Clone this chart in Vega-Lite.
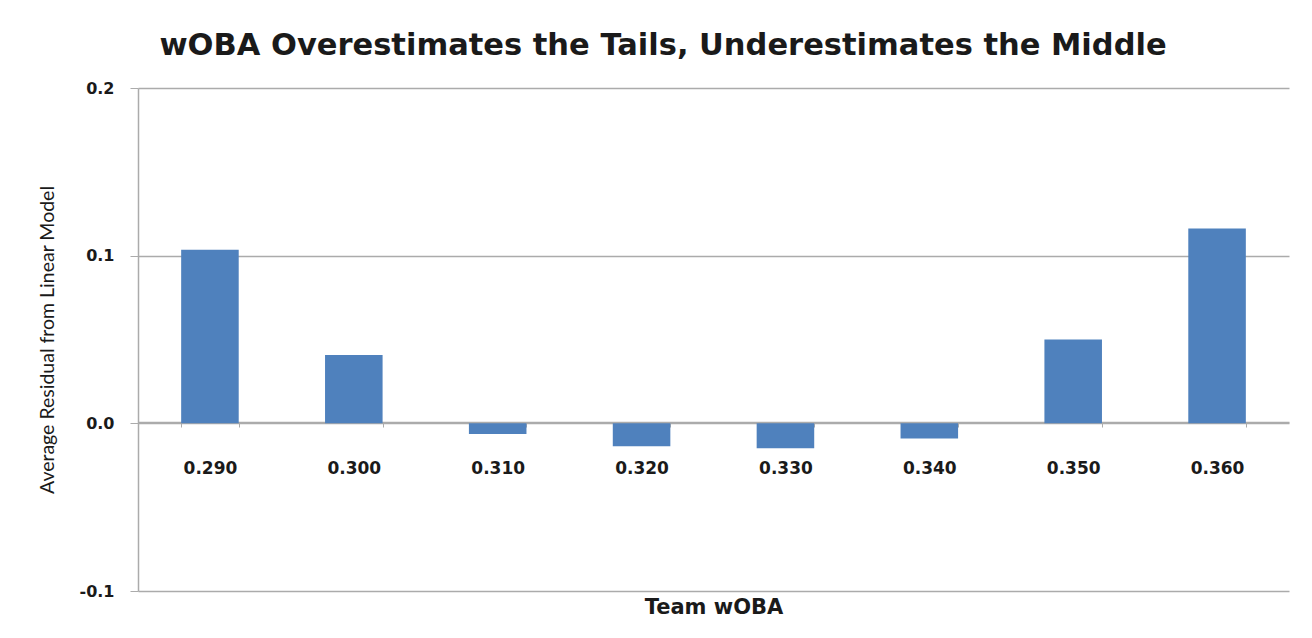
{
  "$schema": "https://vega.github.io/schema/vega-lite/v6.json",
  "autosize": {"type": "none"},
  "width": 1151,
  "height": 503,
  "padding": {"left": 138, "top": 88, "right": 23, "bottom": 47},
  "background": "white",
  "title": {
    "text": "wOBA Overestimates the Tails, Underestimates the Middle",
    "font": "DejaVu Sans",
    "fontSize": 30.5,
    "fontWeight": "bold",
    "color": "#1a1a1a",
    "anchor": "middle",
    "frame": "bounds",
    "offset": 19
  },
  "data": {
    "values": [
      {"woba": "0.290", "residual": 0.1035},
      {"woba": "0.300", "residual": 0.0408},
      {"woba": "0.310", "residual": -0.0063},
      {"woba": "0.320", "residual": -0.0136},
      {"woba": "0.330", "residual": -0.0148},
      {"woba": "0.340", "residual": -0.0090},
      {"woba": "0.350", "residual": 0.0500},
      {"woba": "0.360", "residual": 0.1162}
    ]
  },
  "mark": {"type": "bar", "color": "#4F81BD"},
  "encoding": {
    "x": {
      "field": "woba",
      "type": "nominal",
      "sort": null,
      "scale": {"paddingInner": 0.6, "paddingOuter": 0.3},
      "axis": {
        "title": "Team wOBA",
        "titleFont": "DejaVu Sans",
        "titleFontSize": 21,
        "titleFontWeight": "bold",
        "titleColor": "#1a1a1a",
        "titlePadding": 120,
        "labelFont": "DejaVu Sans",
        "labelFontSize": 17,
        "labelFontWeight": "bold",
        "labelColor": "#1a1a1a",
        "labelAngle": 0,
        "labelPadding": 33,
        "offset": -169,
        "tickBand": "extent",
        "tickSize": 5,
        "tickColor": "#ababab",
        "domainColor": "#ababab",
        "domainWidth": 1.5
      }
    },
    "y": {
      "field": "residual",
      "type": "quantitative",
      "scale": {"domain": [-0.1, 0.2], "nice": false, "zero": false},
      "axis": {
        "title": "Average Residual from Linear Model",
        "titleFont": "Lato",
        "titleFontSize": 19.5,
        "titleFontWeight": "normal",
        "titleColor": "#1a1a1a",
        "titlePadding": 22,
        "values": [-0.1, 0, 0.1, 0.2],
        "format": ".1f",
        "labelExpr": "replace(datum.label, '\u2212', '-')",
        "labelFont": "DejaVu Sans",
        "labelFontSize": 16,
        "labelFontWeight": "bold",
        "labelColor": "#1a1a1a",
        "labelPadding": 16,
        "tickSize": 8,
        "tickColor": "#ababab",
        "domainColor": "#ababab",
        "domainWidth": 1.5,
        "grid": true,
        "gridColor": "#ababab",
        "gridWidth": 1.5
      }
    }
  },
  "config": {
    "view": {"stroke": null}
  }
}
